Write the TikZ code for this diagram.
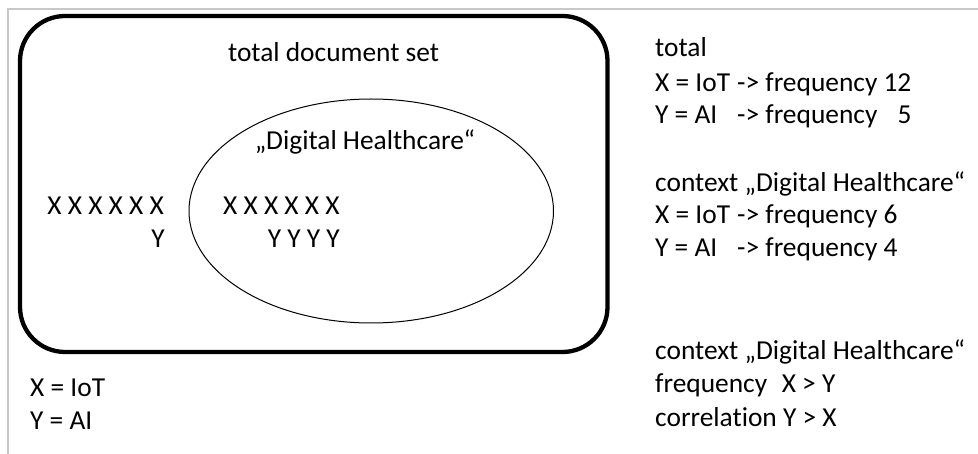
\documentclass[tikz,border=0pt]{standalone}
\usepackage{fontspec}
\setmainfont{Carlito}[Ligatures=NoCommon]
\usetikzlibrary{shapes.geometric}
\definecolor{pagegray}{RGB}{200,200,200}
\newcommand{\lhs}[1]{\makebox[82pt][l]{#1}}
\begin{document}
\begin{tikzpicture}[x=1pt,y=-1pt,
  txt/.style={anchor=base west,inner sep=0pt,font=\fontsize{27.4}{33}\selectfont},
  ctxt/.style={txt,anchor=base},
  rtxt/.style={txt,anchor=base east}]
  \useasboundingbox (0,0) rectangle (978,454);
  % page edge
  \draw[pagegray,line width=1.5pt] (8,454) |- (978,9);
  % sets
  \node[draw,line width=4.3pt,rounded corners=45pt,minimum width=587.5pt,
    minimum height=336pt,inner sep=0pt] (docset) at (313.75,184) {};
  \node[draw,ellipse,line width=1pt,minimum width=364.5pt,minimum height=224pt,
    inner sep=0pt] (context) at (371.25,211) {};
  \node[ctxt] (docname) at (333.6,62) {total document set};
  \node[ctxt] (ctxname) at (365,150) {„Digital Healthcare“};
  % occurrences
  \node[rtxt] (xout) at (164,215) {X X X X X X};
  \node[rtxt] (yout) at (165,248) {Y};
  \node[txt] (xin) at (223,215) {X X X X X X};
  \node[rtxt] (yin) at (340,248) {Y Y Y Y};
  % legend
  \node[txt] (legx) at (30,397) {X = IoT};
  \node[txt] (legy) at (30,429) {Y = AI};
  % counts
  \node[txt] (tot) at (655,57) {total};
  \node[txt] (totx) at (655,92) {\lhs{X = IoT}-> frequency 12};
  \node[txt] (toty) at (655,124) {\lhs{Y = AI}-> frequency \phantom{1}5};
  \node[txt] (ctx) at (655,192) {context „Digital Healthcare“};
  \node[txt] (ctxx) at (655,224) {\lhs{X = IoT}-> frequency 6};
  \node[txt] (ctxy) at (655,257) {\lhs{Y = AI}-> frequency 4};
  \node[txt] (res) at (655,360) {context „Digital Healthcare“};
  \node[txt] (resf) at (655,393) {frequency\hspace{8.4pt} X > Y};
  \node[txt] (resc) at (655,427) {correlation Y > X};
\end{tikzpicture}
\end{document}
